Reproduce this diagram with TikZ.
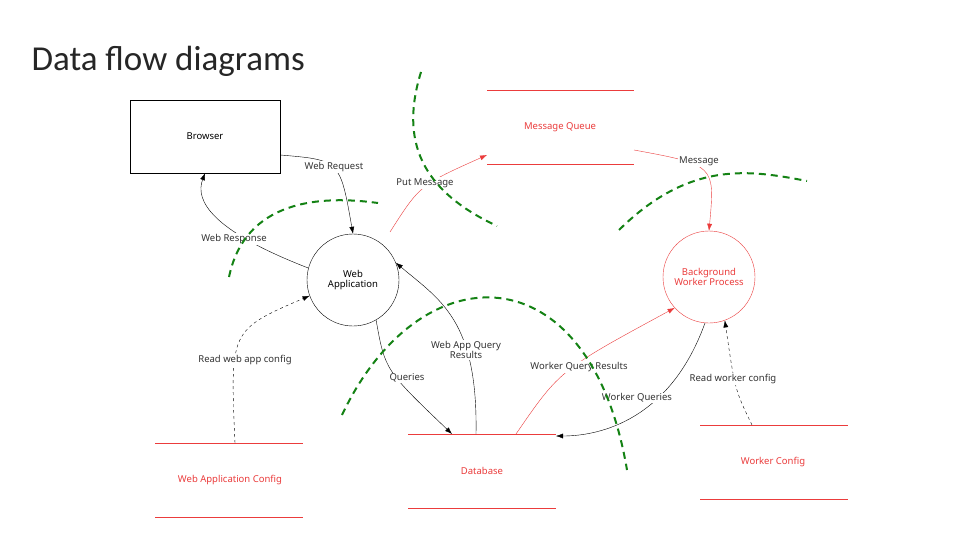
\documentclass[tikz,border=0pt]{standalone}
\usepackage{fontspec}
\setmainfont{Noto Sans}
\newfontfamily\titlefont{Carlito}
\usetikzlibrary{arrows.meta}
\definecolor{dred}{RGB}{235,60,60}
\definecolor{dgreen}{RGB}{20,130,20}
\begin{document}
\begin{tikzpicture}[x=1pt,y=-1pt,
  lbl/.style={font=\fontsize{9.5}{10.5}\selectfont, text=black!80, align=center, fill=white, inner sep=1pt},
  rlbl/.style={font=\fontsize{9.5}{10.5}\selectfont, text=dred, align=center},
  fl/.style={-{Latex[length=7pt,width=5pt]}, black},
  rfl/.style={-{Latex[length=7pt,width=5pt]}, dred},
  store/.style={dred, line width=0.8pt},
  bound/.style={dgreen, line width=2pt, dash pattern=on 7pt off 5pt}]
\path[use as bounding box, fill=white] (0,0) rectangle (960,540);
\node[anchor=west, font=\titlefont\fontsize{35}{38}\selectfont, text=black!85] (title) at (28,61) {Data flow diagrams};
\node[draw, minimum width=150pt, minimum height=73pt, font=\fontsize{9.5}{10.5}\selectfont] (browser) at (205,136.5) {Browser};
\node[draw, circle, minimum size=92pt, font=\fontsize{9.5}{10.5}\selectfont, align=center] (web) at (353,280) {Web\\Application};
\node[draw=dred, circle, minimum size=92pt, text=dred, font=\fontsize{9.5}{10.5}\selectfont, align=center] (worker) at (709,277) {Background\\Worker Process};
% stores
\draw[store] (487,90) -- (634,90); \draw[store] (487,164) -- (634,164);
\node[rlbl] (mq) at (560,127) {Message Queue};
\draw[store] (155,443) -- (303,443); \draw[store] (155,517) -- (303,517);
\node[rlbl] (wac) at (230,480) {Web Application Config};
\draw[store] (408,434) -- (556,434); \draw[store] (408,508) -- (556,508);
\node[rlbl] (db) at (482,471) {Database};
\draw[store] (700,425) -- (848,425); \draw[store] (700,499) -- (848,499);
\node[rlbl] (wc) at (773,462) {Worker Config};
\coordinate (mqL) at (487,155); \coordinate (mqR) at (634,150);
\coordinate (wacT) at (235,443); \coordinate (dbA) at (452,434); \coordinate (dbB) at (476,434);
\coordinate (dbC) at (516,434); \coordinate (dbD) at (556,436); \coordinate (wcT) at (752,425);
% flows
\draw[fl] (browser.east|-0,155) .. controls (340,160) .. (web.north);
\node[lbl] at (334,167) {Web Request};
\draw[fl] (web.165) .. controls (210,230) and (195,200) .. (browser.south);
\node[lbl] at (234,239) {Web Response};
\draw[rfl] (390,232) .. controls (420,185) .. (mqL);
\node[lbl] at (425,183) {Put Message};
\draw[rfl] (mqR) .. controls (715,165) .. (worker.north);
\node[lbl] at (699,161) {Message};
\draw[fl, dashed] (wacT) .. controls (230,330) .. (web.200);
\node[lbl] at (245,360) {Read web app config};
\draw[fl] (web.300) .. controls (385,370) .. (dbA);
\node[lbl] at (407,378) {Queries};
\draw[fl] (dbB) .. controls (478,320) and (440,300) .. (web.22);
\node[lbl] at (466,350) {Web App Query\\Results};
\draw[rfl] (dbC) .. controls (560,370) .. (worker.222);
\node[lbl] at (579,367) {Worker Query Results};
\draw[fl] (worker.265) .. controls (670,420) and (600,436) .. (dbD);
\node[lbl] at (637,398) {Worker Queries};
\draw[fl, dashed] (wcT) .. controls (735,390) .. (worker.290);
\node[lbl] at (733,379) {Read worker config};
% boundaries
\draw[bound] (421,72) .. controls (400,140) and (420,190) .. (497,226);
\draw[bound] (229,277) .. controls (245,200) and (320,195) .. (378,203);
\draw[bound] (619,230) .. controls (690,160) and (750,170) .. (807,181);
\draw[bound] (342,415) .. controls (420,250) and (590,250) .. (627,470);
\end{tikzpicture}
\end{document}
